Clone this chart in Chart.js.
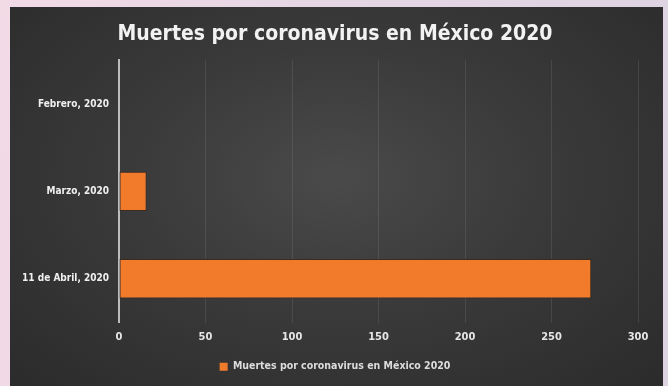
<!DOCTYPE html>
<html>
<head>
<meta charset="utf-8">
<script src="https://cdn.jsdelivr.net/npm/chart.js@4"></script>
<style>
  html, body { margin: 0; padding: 0; }
  body {
    width: 668px;
    height: 386px;
    overflow: hidden;
    background: linear-gradient(100deg, #f3dbe6 0%, #e6d6e4 40%, #ddd3e1 100%);
    position: relative;
  }
  #panel {
    position: absolute;
    left: 10px;
    top: 7px;
    width: 653px;
    height: 379px;
    background: radial-gradient(ellipse at 50% 45%, #4a4a4a 0%, #3a3a3a 45%, #2b2b2b 100%);
  }
</style>
</head>
<body>
<div id="panel"><canvas id="deathsChart" width="653" height="379"></canvas></div>
<script>
const categories = ["Febrero, 2020", "Marzo, 2020", "11 de Abril, 2020"];
const deaths = [0, 16, 273];
const xTicks = [0, 50, 100, 150, 200, 250, 300];
const seriesName = "Muertes por coronavirus en México 2020";

const narrow = "'Liberation Sans Narrow', 'DejaVu Sans Condensed', sans-serif";

// orange bar with a lighter top half, like the office-style fill
function barFill(context) {
  const el = context.element;
  if (!el || el.height == null) return "#f27a2b";
  const top = el.y - el.height / 2;
  const g = context.chart.ctx.createLinearGradient(0, top, 0, top + el.height);
  g.addColorStop(0, "#f68c42");
  g.addColorStop(0.5, "#f58238");
  g.addColorStop(1, "#ec7222");
  return g;
}

// let the long category labels spill into the left padding instead of being clipped
const wideLabels = {
  id: "wideLabels",
  afterLayout(chart) {
    chart.scales.y.left = 0;
  },
};

const ctx = document.getElementById("deathsChart").getContext("2d");
const deathsChart = new Chart(ctx, {
  type: "bar",
  data: {
    labels: categories,
    datasets: [
      {
        label: seriesName,
        data: deaths,
        backgroundColor: barFill,
        borderColor: "#3b2a1e",
        borderWidth: 1,
        borderSkipped: false,
        barPercentage: 0.5,
        categoryPercentage: 0.9,
      },
    ],
  },
  plugins: [wideLabels],
  options: {
    indexAxis: "y",
    responsive: false,
    animation: false,
    devicePixelRatio: 1,
    layout: {
      padding: { left: 22, right: 25, top: 6, bottom: 4 },
    },
    plugins: {
      title: {
        display: true,
        text: seriesName,
        color: "#f2f2f2",
        font: { family: narrow, size: 21, weight: "bold" },
        padding: { top: 9, bottom: 13 },
      },
      legend: {
        position: "bottom",
        labels: {
          color: "#dddddd",
          font: { family: narrow, size: 10.5, weight: "bold" },
          boxWidth: 8,
          boxHeight: 8,
          padding: 12,
          generateLabels: (chart) => [
            {
              text: seriesName,
              fillStyle: "#f27a2b",
              strokeStyle: "#f27a2b",
              lineWidth: 0,
              fontColor: "#dddddd",
              datasetIndex: 0,
            },
          ],
        },
      },
      tooltip: { enabled: false },
    },
    scales: {
      x: {
        min: 0,
        max: 300,
        afterBuildTicks: (axis) => {
          axis.ticks = xTicks.map((v) => ({ value: v }));
        },
        afterFit: (axis) => {
          axis.height = 27;
        },
        grid: {
          color: "rgba(255,255,255,0.09)",
          drawTicks: false,
        },
        border: { display: false },
        ticks: {
          color: "#e6e6e6",
          padding: 8,
          font: { family: narrow, size: 11, weight: "bold" },
        },
      },
      y: {
        afterFit: (axis) => {
          axis.width = 87;
        },
        grid: { display: false, drawTicks: false },
        border: { display: true, color: "#bcbcbc", width: 2 },
        ticks: {
          color: "#f0f0f0",
          padding: 10,
          font: { family: narrow, size: 10, weight: "bold" },
        },
      },
    },
  },
});
</script>
</body>
</html>
